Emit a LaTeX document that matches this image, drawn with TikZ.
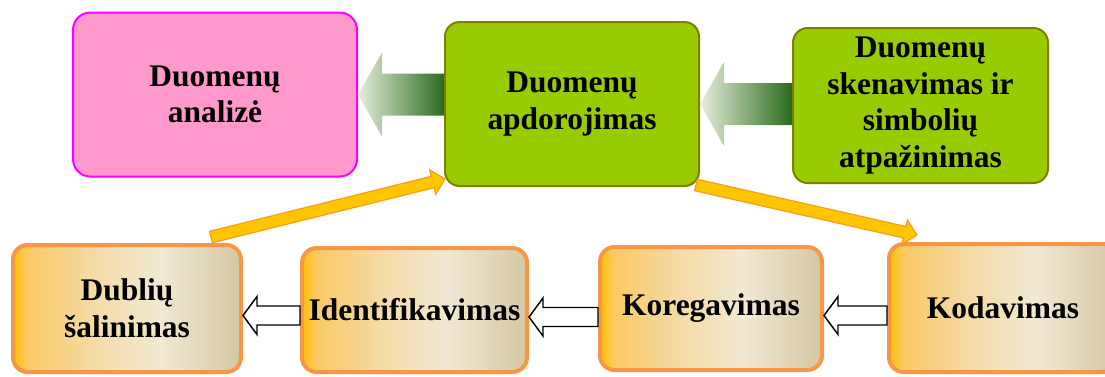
\documentclass[tikz,border=0pt]{standalone}
\usepackage{fontspec}
\setmainfont{Liberation Serif}
\usetikzlibrary{calc}
\definecolor{pinkfill}{HTML}{FF99CC}
\definecolor{pinkline}{HTML}{FF00FF}
\definecolor{limefill}{HTML}{99CC00}
\definecolor{limeline}{HTML}{7F7F00}
\definecolor{tanline}{HTML}{F79646}
\definecolor{tanA}{HTML}{FFC000}
\definecolor{tanB}{HTML}{FAC963}
\definecolor{tanC}{HTML}{F5DAA4}
\definecolor{tanD}{HTML}{F1E9D3}
\definecolor{tanE}{HTML}{D3C7A3}
\definecolor{gold}{HTML}{FFC600}
\definecolor{goldline}{HTML}{F99B1B}
\definecolor{leafdark}{HTML}{2A6B1C}
\definecolor{leaflight}{HTML}{E6EEDB}
\pgfdeclarehorizontalshading{tanfade}{100bp}{color(0bp)=(tanA);color(25bp)=(tanA);color(28bp)=(tanB);color(42bp)=(tanC);color(57bp)=(tanD);color(75bp)=(tanE);color(100bp)=(tanE)}
\newcommand\fatarrow[2]{%
  \shade[left color=leaflight,right color=leafdark] (#1.east) -- ($(#1.east)+(24,-42)$) -- ($(#1.east)+(24,-21)$) -- ($(#1.east -| #2.west)+(0,-21)$) -- ($(#1.east -| #2.west)+(0,21)$) -- ($(#1.east)+(24,21)$) -- ($(#1.east)+(24,42)$) -- cycle;}
\newcommand\goldarrow[2]{%
  \coordinate (hb) at ($(#2)!9.5pt!(#1)$);
  \draw[goldflow] ($(#1)!4.4pt!90:(#2)$) -- ($(hb)!4.4pt!90:(#2)$) -- ($(hb)!9.4pt!90:(#2)$) -- (#2) -- ($(hb)!9.4pt!-90:(#2)$) -- ($(hb)!4.4pt!-90:(#2)$) -- ($(#1)!4.4pt!-90:(#2)$) -- cycle;}
\newcommand\hollowarrow[2]{%
  \coordinate (tp) at ($(#1.east)+(0,7)$);
  \draw[hollow] (tp) -- ++(14,-19) -- ++(0,9.5) -- ($(tp -| #2.west)+(0,-9.5)$) -- ($(tp -| #2.west)+(0,9.5)$) -- ($(tp)+(14,9.5)$) -- ($(tp)+(14,19)$) -- cycle;}

\begin{document}
\begin{tikzpicture}[x=0.75pt,y=-0.75pt,
  txt/.style={font=\fontsize{23.6}{27.5}\selectfont\bfseries,align=center,inner sep=0pt},
  pinkbox/.style={txt,draw=pinkline,fill=pinkfill,line width=1.5pt,rounded corners=13pt},
  limebox/.style={txt,draw=limeline,fill=limefill,line width=1.5pt,rounded corners=11pt},
  tanbox/.style={txt,draw=tanline,shading=tanfade,line width=3pt,rounded corners=11pt},
  hollow/.style={draw=black,fill=white,line width=1.1pt,line join=miter},
  goldflow/.style={draw=goldline,fill=gold,line width=0.9pt}]
\useasboundingbox (0,0) rectangle (1105,376);
\clip (0,0) rectangle (1105,376);
\node[pinkbox,minimum width=213pt,minimum height=123pt] (analize) at (215,94.5) {Duomenų\\analizė};
\node[limebox,minimum width=190.5pt,minimum height=123pt] (apdor) at (572,104) {Duomenų\\apdorojimas};
\node[limebox,minimum width=191.25pt,minimum height=116.25pt] (skenav) at (920.5,105.5) {Duomenų\\skenavimas ir\\simbolių\\atpažinimas};
\node[tanbox,minimum width=171pt,minimum height=95.25pt] (dubl) at (127,308.5) {Dublių\\šalinimas};
\node[tanbox,minimum width=168.75pt,minimum height=93pt] (ident) at (414.5,310) {Identifikavimas};
\node[tanbox,minimum width=166.5pt,minimum height=92.25pt] (koreg) at (711,308.5) {Koregavimas};
\node[tanbox,minimum width=171pt,minimum height=96pt] (kodav) at (1003,308) {Kodavimas};
\fatarrow{analize}{apdor}
\fatarrow{apdor}{skenav}
\foreach \a/\b in {dubl/ident,ident/koreg,koreg/kodav}
  \hollowarrow{\a}{\b};
\coordinate (upfrom) at ($(dubl.north east)+(-32,-6)$);
\coordinate (upto) at ($(apdor.south west)+(1,-8)$);
\coordinate (downfrom) at ($(apdor.south east)+(-4,-2)$);
\coordinate (downto) at ($(kodav.north west)+(30,-7)$);
\goldarrow{upfrom}{upto}
\goldarrow{downfrom}{downto}
\end{tikzpicture}
\end{document}
